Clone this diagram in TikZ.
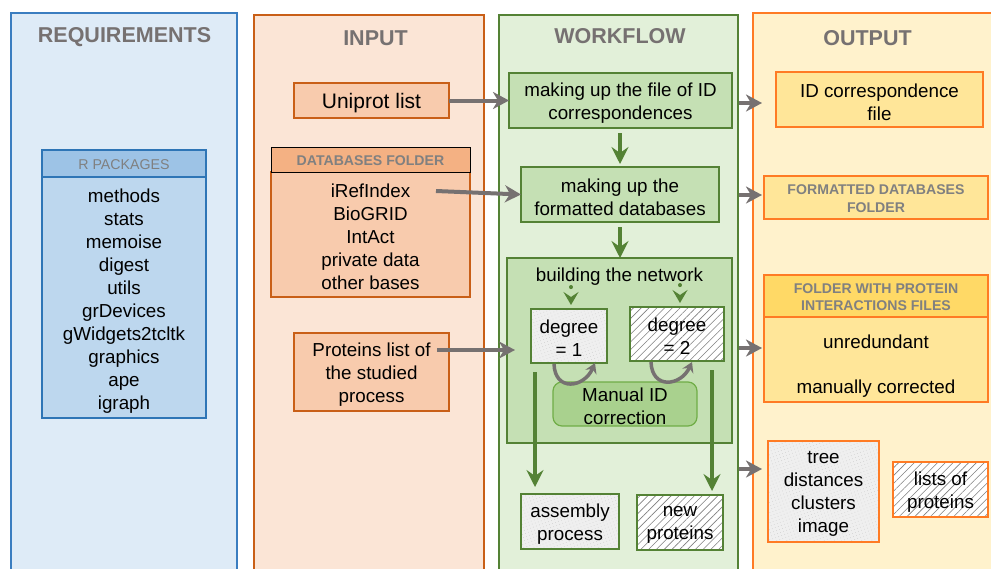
\documentclass[tikz,border=0pt]{standalone}
\usepackage{fontspec}
\setmainfont{Liberation Sans}
\usetikzlibrary{arrows.meta,patterns.meta}
\definecolor{reqfill}{HTML}{DEEBF7}
\definecolor{reqdraw}{HTML}{3A7DC0}
\definecolor{rdraw}{HTML}{2E75B6}
\definecolor{rhead}{HTML}{9DC3E6}
\definecolor{rbody}{HTML}{BDD7EE}
\definecolor{infill}{HTML}{FBE5D6}
\definecolor{indraw}{HTML}{C95F17}
\definecolor{inbox}{HTML}{F8CBAD}
\definecolor{inhead}{HTML}{F4B183}
\definecolor{wffill}{HTML}{E2F0D9}
\definecolor{wfdraw}{HTML}{548235}
\definecolor{wfbox}{HTML}{C5E0B4}
\definecolor{wfman}{HTML}{A9D18E}
\definecolor{wfmandraw}{HTML}{70AD47}
\definecolor{outfill}{HTML}{FFF2CC}
\definecolor{outdraw}{HTML}{FF7B24}
\definecolor{outbox}{HTML}{FFE699}
\definecolor{outhead}{HTML}{FFD966}
\definecolor{titlegray}{HTML}{767171}
\definecolor{labelgray}{HTML}{808080}
\definecolor{arrowgray}{HTML}{767171}
\definecolor{granite}{HTML}{EFEFEF}
\definecolor{speck}{HTML}{D2D2D2}
\tikzset{
  base/.style={inner sep=0pt, outer sep=0pt, font=\fontsize{18.8}{23}\selectfont, align=center, text=black},
  boxtext/.style={base, yshift=-2.5pt},
  capstext/.style={base, yshift=-1.2pt, font=\fontsize{14.1}{17}\selectfont\bfseries, text=labelgray},
  colbox/.style={inner sep=0pt, outer sep=0pt, line width=1.6pt, draw},
  box/.style={inner sep=0pt, outer sep=0pt, line width=1.4pt, draw},
  title/.style={font=\fontsize{21.5}{24}\selectfont\bfseries, text=titlegray, anchor=base, inner sep=0pt},
  granitebox/.style={box, preaction={fill=granite}, pattern={Dots[distance=3.2pt, radius=0.45pt, angle=20]}, pattern color=speck},
  hatchbox/.style={box, preaction={fill=white}, pattern={Lines[angle=45,distance=5.5pt,line width=0.6pt]}, pattern color=gray},
  garrow/.style={draw=arrowgray, line width=4pt, -{Stealth[length=16pt,width=17pt,inset=5pt]}},
  curvarrow/.style={draw=arrowgray, line width=3.5pt, -{Stealth[length=10pt,width=12pt,inset=3.5pt]}},
  greenarrow/.style={draw=wfdraw, line width=4pt, -{Stealth[length=17pt,width=17pt,inset=6pt]}},
  dotarrow/.style={draw=wfdraw, line width=4pt, line cap=round, dash pattern=on 0.1pt off 40pt, -{Stealth[length=13pt,width=15pt,inset=5pt]}},
}
% \cornerbox{box options}{name}{x1}{y1}{x2}{y2}{text options}{text}
\newcommand{\cornerbox}[8]{%
  \pgfmathsetmacro\cbxc{(#3+#5)/2}%
  \pgfmathsetmacro\cbyc{(#4+#6)/2}%
  \pgfmathsetmacro\cbw{#5-#3}%
  \pgfmathsetmacro\cbh{#6-#4}%
  \node[#1, minimum width=\cbw pt, minimum height=\cbh pt] (#2) at (\cbxc,\cbyc) {};%
  \node[#7] (#2-text) at (#2.center) {#8};%
}
\begin{document}
\begin{tikzpicture}[x=1pt,y=-1pt]
\useasboundingbox (0,0) rectangle (991,568);
\clip (0,0) rectangle (991,568);
\fill[white] (0,0) rectangle (991,568);

% columns
\cornerbox{colbox, draw=reqdraw, fill=reqfill}{reqcol}{11}{13}{237}{600}{base}{}
\cornerbox{colbox, draw=indraw, fill=infill}{inpcol}{254}{15}{484}{600}{base}{}
\cornerbox{colbox, draw=wfdraw, fill=wffill}{wfcol}{499}{15}{738}{600}{base}{}
\cornerbox{colbox, draw=outdraw, fill=outfill}{outcol}{753}{13}{1005}{600}{base}{}

\node[title] (reqt) at (124.5,42) {REQUIREMENTS};
\node[title] (inpt) at (375.5,45) {INPUT};
\node[title] (wft) at (620,43) {WORKFLOW};
\node[title] (outt) at (867.5,45) {OUTPUT};

% requirements
\cornerbox{box, draw=rdraw, fill=rbody}{rbody}{42}{177}{206}{418}{base}{}
\node[base] (rlist) at (124,301) {methods\\stats\\memoise\\digest\\utils\\grDevices\\gWidgets2tcltk\\graphics\\ape\\igraph};
\cornerbox{box, draw=rdraw, fill=rhead}{rhead}{42}{150}{206}{177}{capstext, font=\fontsize{14.2}{16}\selectfont}{R PACKAGES}

% input
\cornerbox{box, draw=indraw, fill=inbox}{uniprot}{294}{83}{449}{118}{boxtext, yshift=-0.5pt, font=\fontsize{21}{24}\selectfont}{Uniprot list}
\cornerbox{box, draw=indraw, fill=inbox}{dbbody}{271}{172}{470}{297}{boxtext}{iRefIndex\\BioGRID\\IntAct\\private data\\other bases}
\cornerbox{box, draw=black, line width=1pt, fill=inhead}{dbhead}{271}{147}{470}{172}{capstext}{DATABASES FOLDER}
\cornerbox{box, draw=indraw, fill=inbox}{plist}{294}{333}{449}{411}{boxtext}{Proteins list of\\the studied\\process}

% workflow
\cornerbox{box, draw=wfdraw, fill=wfbox}{box1}{509}{73}{732}{128}{boxtext}{making up the file of ID\\correspondences}
\cornerbox{box, draw=wfdraw, fill=wfbox}{box2}{521}{167}{719}{222}{boxtext}{making up the\\formatted databases}
\cornerbox{box, draw=wfdraw, fill=wfbox}{net}{507}{258}{732}{443}{base}{}
\node[base] (nett) at (619.5,277) {building the network};
\cornerbox{granitebox, draw=wfdraw}{deg1}{531}{309}{607}{363}{boxtext}{degree\\= 1}
\cornerbox{hatchbox, draw=wfdraw}{deg2}{630}{307}{724}{361}{boxtext}{degree\\= 2}
\cornerbox{box, draw=wfmandraw, fill=wfman, rounded corners=9pt, line width=1.2pt}{manual}{553}{382}{697}{426}{boxtext}{Manual ID\\correction}
\cornerbox{granitebox, draw=wfdraw}{asm}{521}{494}{619}{549}{boxtext}{assembly\\process}
\cornerbox{hatchbox, draw=wfdraw}{newp}{637}{495}{723}{550}{boxtext}{new\\proteins}

% output
\cornerbox{box, draw=outdraw, fill=outbox}{idcorr}{776}{72}{983}{127}{boxtext}{ID correspondence\\file}
\cornerbox{box, draw=outdraw, fill=outbox}{fmtdb}{764}{176}{988}{219}{capstext, font=\fontsize{14.1}{18}\selectfont\bfseries}{FORMATTED DATABASES\\FOLDER}
\cornerbox{box, draw=outdraw, fill=outbox}{fbody}{764}{317}{988}{402}{base}{}
\node[base] (ftext) at (876,366) {unredundant\\[22pt]manually corrected};
\cornerbox{box, draw=outdraw, fill=outhead}{fhead}{764}{275}{988}{317}{capstext}{FOLDER WITH PROTEIN\\INTERACTIONS FILES}
\cornerbox{granitebox, draw=outdraw}{tree}{768}{441}{879}{542}{boxtext}{tree\\distances\\clusters\\image}
\cornerbox{hatchbox, draw=outdraw}{lists}{893}{462}{988}{517}{boxtext}{lists of\\proteins}

% coordinates
\coordinate (dbs) at (436,191);
\coordinate (ps) at (437,350);
\coordinate (o1s) at (739,103); \coordinate (o1e) at (762,103);
\coordinate (o2s) at (739,195); \coordinate (o2e) at (762,195);
\coordinate (o3s) at (739,348); \coordinate (o3e) at (762,348);
\coordinate (o4s) at (739,469); \coordinate (o4e) at (762,469);
\coordinate (d1s) at (571,287);
\coordinate (d2s) at (680,285);
\coordinate (l1s) at (535,372);
\coordinate (l2s) at (712,370);
\coordinate (c1s) at (554,364); \coordinate (c1e) at (595,363);
\coordinate (c2s) at (651,362); \coordinate (c2e) at (692,362);

% gray arrows input -> workflow
\draw[garrow] (uniprot.east) -- (uniprot.east -| box1.west);
\draw[garrow] (dbs) -- (box2.west);
\draw[garrow, shorten >=16pt] (ps) -- (ps -| deg1.west);

% gray arrows workflow -> output
\draw[garrow] (o1s) -- (o1e);
\draw[garrow] (o2s) -- (o2e);
\draw[garrow] (o3s) -- (o3e);
\draw[garrow] (o4s) -- (o4e);

% green arrows
\draw[greenarrow, shorten <=5pt, shorten >=3pt] (box1.south -| 620,0) -- (box2.north -| 620,0);
\draw[greenarrow, shorten <=5pt] (box2.south -| 620,0) -- (net.north -| 620,0);
\draw[dotarrow, shorten >=4pt] (d1s) -- (d1s |- deg1.north);
\draw[dotarrow, shorten >=4pt] (d2s) -- (d2s |- deg2.north);
\draw[greenarrow, shorten >=7pt] (l1s) -- (l1s |- asm.north);
\draw[greenarrow, shorten >=4pt] (l2s) -- (l2s |- newp.north);

% curved manual correction arrows
\draw[curvarrow] (c1s) .. controls (555,392) and (584,388) .. (c1e);
\draw[curvarrow] (c2s) .. controls (652,390) and (681,386) .. (c2e);
\end{tikzpicture}
\end{document}
